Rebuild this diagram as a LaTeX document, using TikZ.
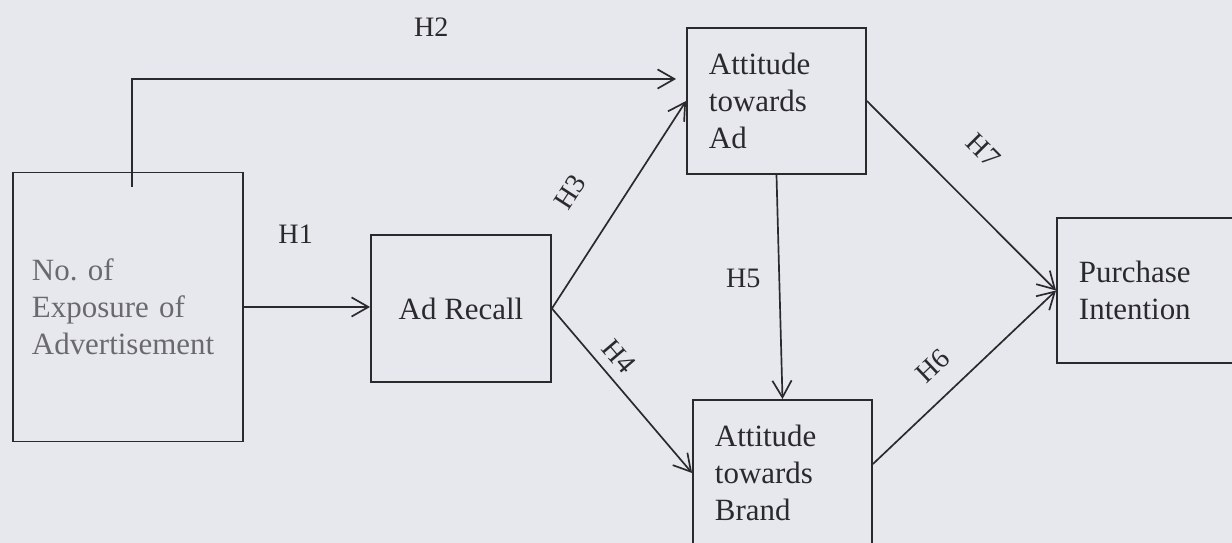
\documentclass[tikz,border=0pt]{standalone}
\usepackage{fontspec}
\setmainfont{Liberation Serif}
\usetikzlibrary{arrows.meta}
\definecolor{paper}{HTML}{E7E8EE}
\definecolor{ink}{HTML}{2A2A2C}
\definecolor{fadedink}{HTML}{6A6A6E}
\tikzset{
  boxnode/.style={draw=ink, line width=1.3pt, text=ink, align=left, inner xsep=0.55cm, inner ysep=0pt, font=\fontsize{22}{26.3}\selectfont},
  arrowline/.style={ink, line width=1.2pt, -{Straight Barb[length=4.2mm, width=4.8mm]}},
  hlabel/.style={text=ink, inner sep=0pt, font=\fontsize{20}{24}\selectfont}
}
\begin{document}
\begin{tikzpicture}[x=0.025cm, y=-0.025cm]
  \useasboundingbox (0,0) rectangle (1232,543);
  \fill[paper] (0,0) rectangle (1232,543);
  \node[boxnode, text=fadedink, inner xsep=0.475cm, text width=4.8cm, minimum width=5.75cm, minimum height=6.725cm] (expo) at (128,307) {No.\ of\\Exposure of\\Advertisement};
  \node[boxnode, align=center, minimum width=4.5cm, minimum height=3.675cm] (recall) at (461,308.5) {Ad Recall};
  \node[boxnode, text width=3.375cm, minimum width=4.475cm, minimum height=3.65cm] (attad) at (776.5,101) {Attitude\\towards\\Ad};
  \node[boxnode, text width=3.375cm, minimum width=4.475cm, minimum height=3.65cm] (attbrand) at (782.5,473) {Attitude\\towards\\Brand};
  \node[boxnode, text width=3.4cm, minimum width=4.5cm, minimum height=3.625cm] (purchase) at (1147,290.5) {Purchase\\Intention};
  \draw[arrowline] (expo.east) -- node[hlabel, pos=0.41, above=1.56cm] {H1} (expo.east -| recall.west);
  \draw[arrowline, shorten >=0.25cm] ([xshift=3cm,yshift=-0.375cm]expo.north west) |- node[hlabel, pos=0.77, above=1.04cm] {H2} ([yshift=0.55cm]attad.west);
  \draw[arrowline] (recall.east) -- node[hlabel, sloped, pos=0.435, above=0.95cm] {H3} (attad.west);
  \draw[arrowline] (recall.east) -- node[hlabel, sloped, pos=0.37, above=0.25cm] {H4} (attbrand.west);
  \draw[arrowline] (attad.south) -- node[hlabel, pos=0.46, left=0.45cm] {H5} (attbrand.north);
  \draw[arrowline] ([yshift=0.225cm]attbrand.east) -- node[hlabel, sloped, pos=0.44, above=0.5cm] {H6} (purchase.west);
  \draw[arrowline] (attad.east) -- node[hlabel, sloped, pos=0.438, above=0.94cm] {H7} (purchase.west);
\end{tikzpicture}
\end{document}
